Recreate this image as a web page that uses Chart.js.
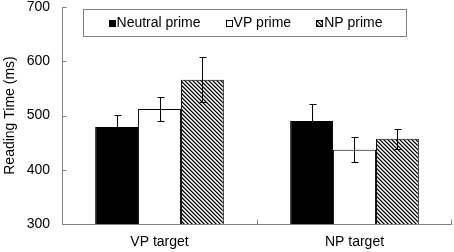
<!DOCTYPE html>
<html>
<head>
<meta charset="utf-8">
<script src="https://cdn.jsdelivr.net/npm/chart.js@4.4.0/dist/chart.umd.min.js"></script>
<style>
  html, body { margin:0; padding:0; background:#fff; }
  #wrap { width:454px; height:252px; }
</style>
</head>
<body>
<div id="wrap"><canvas id="c" width="454" height="252"></canvas></div>
<script>
// data
const categories = ["VP target", "NP target"];
const seriesNames = ["Neutral prime", "VP prime", "NP prime"];
const neutralVals = [479, 490];
const vpVals = [512, 437];
const npVals = [566, 457];
const neutralErr = [22, 32];
const vpErr = [23, 23];
const npErr = [41, 18];
const yTicks = [300, 400, 500, 600, 700];

const FONT = "'Liberation Sans', Arial, sans-serif";
const AXIS = "#808080";

// diagonal hatch like the excel fill
function hatch(){
    let c = document.createElement("canvas");
    c.width = 4; c.height = 4;
    let g = c.getContext("2d");
    g.fillStyle = "#fff"; g.fillRect(0,0,4,4);
    for(let y=0;y<4;y++){
        for(let x=0;x<4;x++){
            let d = ((x - y) % 4 + 4) % 4;
            if(d==0){ g.fillStyle="#000"; g.fillRect(x,y,1,1); }
            else if(d==1){ g.fillStyle="#777"; g.fillRect(x,y,1,1); }
            else if(d==3){ g.fillStyle="#bbb"; g.fillRect(x,y,1,1); }
        }
    }
    return g.createPattern(c, "repeat");
}
const hatchFill = hatch();

const errs = [neutralErr, vpErr, npErr];

// error bars
const errorBars = {
    id:"errorBars",
    afterDatasetsDraw(chart){
        let ctx = chart.ctx, y = chart.scales.y;
        ctx.save();
        ctx.strokeStyle = "#000"; ctx.lineWidth = 1;
        chart.data.datasets.forEach((ds,i)=>{
            let meta = chart.getDatasetMeta(i);
            meta.data.forEach((bar,j)=>{
                let v = ds.data[j], e = errs[i][j];
                let x = Math.round(bar.x)+0.5;
                let top = Math.round(y.getPixelForValue(v+e))+0.5;
                let bot = Math.round(y.getPixelForValue(v-e))+0.5;
                ctx.beginPath();
                ctx.moveTo(x, top); ctx.lineTo(x, bot);
                ctx.moveTo(x-3, top); ctx.lineTo(x+4, top);
                ctx.moveTo(x-3, bot); ctx.lineTo(x+4, bot);
                ctx.stroke();
            });
        });
        ctx.restore();
    }
};

// axes with inside ticks
const axesPlugin = {
    id:"axesPlugin",
    afterDatasetsDraw(chart){
        let ctx = chart.ctx, a = chart.chartArea, xs = chart.scales.x, ys = chart.scales.y;
        ctx.save();
        ctx.strokeStyle = AXIS; ctx.lineWidth = 1;
        let x0 = Math.round(a.left)+0.5, yb = Math.round(a.bottom)+0.5;
        ctx.beginPath();
        ctx.moveTo(x0, Math.round(a.top)); ctx.lineTo(x0, yb);
        ctx.lineTo(Math.round(a.right), yb);
        yTicks.forEach(t=>{
            let py = Math.round(ys.getPixelForValue(t))+0.5;
            ctx.moveTo(x0, py); ctx.lineTo(x0+4, py);
        });
        for(let i=0;i<=categories.length;i++){
            let px = Math.round(xs.getPixelForValue(i-0.5))+0.5;
            if(i==categories.length) px -= 1;
            ctx.moveTo(px, yb); ctx.lineTo(px, yb-5);
        }
        ctx.stroke();
        ctx.restore();
    }
};

// legend box sitting inside the plot
const boxLegend = {
    id:"boxLegend",
    afterDraw(chart){
        let ctx = chart.ctx, a = chart.chartArea;
        let bx = a.left + 21, by = a.top + 2, bw = a.right - 46 - bx, bh = 27;
        ctx.save();
        ctx.fillStyle = "#fff";
        ctx.fillRect(bx, by, bw, bh);
        ctx.strokeStyle = AXIS; ctx.lineWidth = 1;
        ctx.strokeRect(Math.round(bx)+0.5, Math.round(by)+0.5, Math.round(bw), bh);
        ctx.font = "14px " + FONT;
        ctx.textBaseline = "middle";
        let gap = 25, sq = 7;
        let widths = chart.data.datasets.map(d=>sq+1+ctx.measureText(d.label).width);
        let total = widths.reduce((s,w)=>s+w,0) + gap*(widths.length-1);
        let x = bx + (bw-total)/2 + 1;
        let cy = by + bh/2 + 0.5;
        chart.data.datasets.forEach((d,i)=>{
            ctx.fillStyle = d.backgroundColor;
            ctx.fillRect(Math.round(x), Math.round(cy-sq/2), sq, sq);
            ctx.strokeStyle = "#000";
            ctx.strokeRect(Math.round(x)+0.5, Math.round(cy-sq/2)+0.5, sq-1, sq-1);
            ctx.fillStyle = "#000";
            ctx.fillText(d.label, x+sq+1, cy);
            x += widths[i] + gap;
        });
        ctx.restore();
    }
};

new Chart(document.getElementById("c"), {
    type:"bar",
    data:{
        labels:categories,
        datasets:[
            {label:seriesNames[0], data:neutralVals, backgroundColor:"#000"},
            {label:seriesNames[1], data:vpVals, backgroundColor:"#fff"},
            {label:seriesNames[2], data:npVals, backgroundColor:hatchFill}
        ].map(d=>Object.assign(d,{borderColor:"#000", borderWidth:1, borderSkipped:false,
            barPercentage:1, categoryPercentage:0.66}))
    },
    options:{
        responsive:false,
        animation:false,
        devicePixelRatio:1,
        layout:{padding:{top:7, right:2, left:0, bottom:0}},
        plugins:{legend:{display:false}, tooltip:{enabled:false}},
        scales:{
            x:{
                grid:{display:false, drawTicks:false},
                border:{display:false},
                ticks:{color:"#000", font:{family:FONT, size:14}, padding:10},
                afterFit(s){ s.height = 28; s.paddingLeft = 0; s.paddingRight = 0; }
            },
            y:{
                min:300, max:700,
                afterBuildTicks(s){ s.ticks = yTicks.map(v=>({value:v})); },
                grid:{display:false, drawTicks:false},
                border:{display:false},
                ticks:{color:"#000", font:{family:FONT, size:14}, padding:12},
                title:{display:true, text:"Reading Time (ms)", color:"#000", font:{family:FONT, size:14}, padding:{top:2, bottom:0}},
                afterFit(s){ s.width = 62; s.paddingTop = 0; s.paddingBottom = 0; }
            }
        }
    },
    plugins:[axesPlugin, errorBars, boxLegend]
});
</script>
</body>
</html>
